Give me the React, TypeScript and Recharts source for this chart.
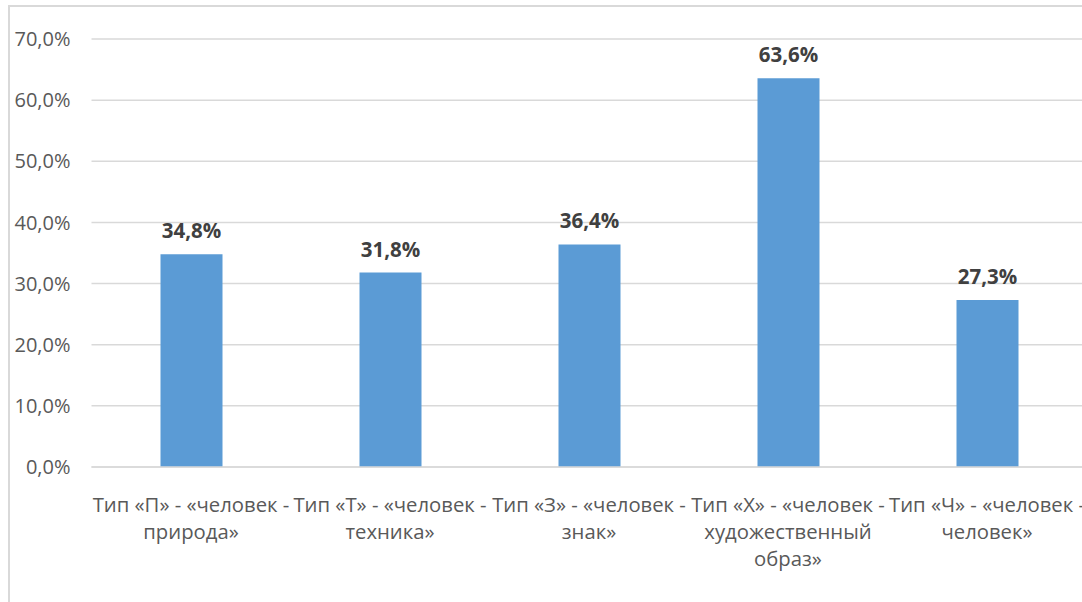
import { Bar, BarChart, CartesianGrid, LabelList, XAxis, YAxis } from "recharts";

const categories = [
    "Тип «П» - «человек - природа»",
    "Тип «Т» - «человек - техника»",
    "Тип «З» - «человек - знак»",
    "Тип «Х» - «человек - художественный образ»",
    "Тип «Ч» - «человек - человек»",
];

// how Excel wrapped the category names under the axis
const categoryLines = [
    ["Тип «П» - «человек -", "природа»"],
    ["Тип «Т» - «человек -", "техника»"],
    ["Тип «З» - «человек -", "знак»"],
    ["Тип «Х» - «человек -", "художественный", "образ»"],
    ["Тип «Ч» - «человек -", "человек»"],
];

const shares = [34.8, 31.8, 36.4, 63.6, 27.3];

const yTicks = [0, 10, 20, 30, 40, 50, 60, 70];

const FONT = "'Open Sans', 'Noto Sans', sans-serif";

const fmt = (v: number) => v.toFixed(1).replace(".", ",") + "%";

const CategoryTick = ({ x, y, payload }: any) => {
    const lines = categoryLines[payload.index] ?? [String(payload.value)];
    return (
        <g transform={`translate(${x},${y})`}>
            {lines.map((line, i) => (
                <text
                    key={i}
                    x={0}
                    y={37 + i * 27}
                    textAnchor="middle"
                    fill="#595959"
                    fontSize={20.3}
                    fontFamily={FONT}
                >
                    {line}
                </text>
            ))}
        </g>
    );
};

const ValueLabel = ({ x, y, width, value }: any) => (
    <text
        x={x + width / 2}
        y={y - 16}
        textAnchor="middle"
        fill="#404040"
        fontSize={20.5}
        fontWeight="bold"
        fontFamily={FONT}
    >
        {fmt(Number(value))}
    </text>
);

function App() {
    const data = categories.map((name, i) => ({ name, share: shares[i] }));

    return (
        <div
            style={{
                position: "fixed",
                left: 8,
                top: 5,
                width: 1074,
                height: 597,
                borderLeft: "2px solid #d9d9d9",
                borderTop: "2px solid #d9d9d9",
                overflow: "hidden",
                background: "#fff",
            }}
        >
            <BarChart
                width={1080}
                height={592}
                data={data}
                barSize={62}
                margin={{ top: 32, right: 3.5, left: 0, bottom: 0 }}
            >
                <CartesianGrid vertical={false} stroke="#d9d9d9" strokeWidth={1.5} />
                <XAxis
                    dataKey="name"
                    height={132}
                    axisLine={{ stroke: "#d9d9d9", strokeWidth: 1.5 }}
                    tickLine={false}
                    interval={0}
                    tick={<CategoryTick />}
                />
                <YAxis
                    width={81.5}
                    domain={[0, 70]}
                    ticks={yTicks}
                    axisLine={false}
                    tickLine={false}
                    tickSize={0}
                    tickMargin={21}
                    tickFormatter={fmt}
                    tick={{ fill: "#595959", fontSize: 20, fontFamily: FONT }}
                />
                <Bar dataKey="share" fill="#5b9bd5" isAnimationActive={false}>
                    <LabelList dataKey="share" content={<ValueLabel />} />
                </Bar>
            </BarChart>
        </div>
    );
}

export default App;
